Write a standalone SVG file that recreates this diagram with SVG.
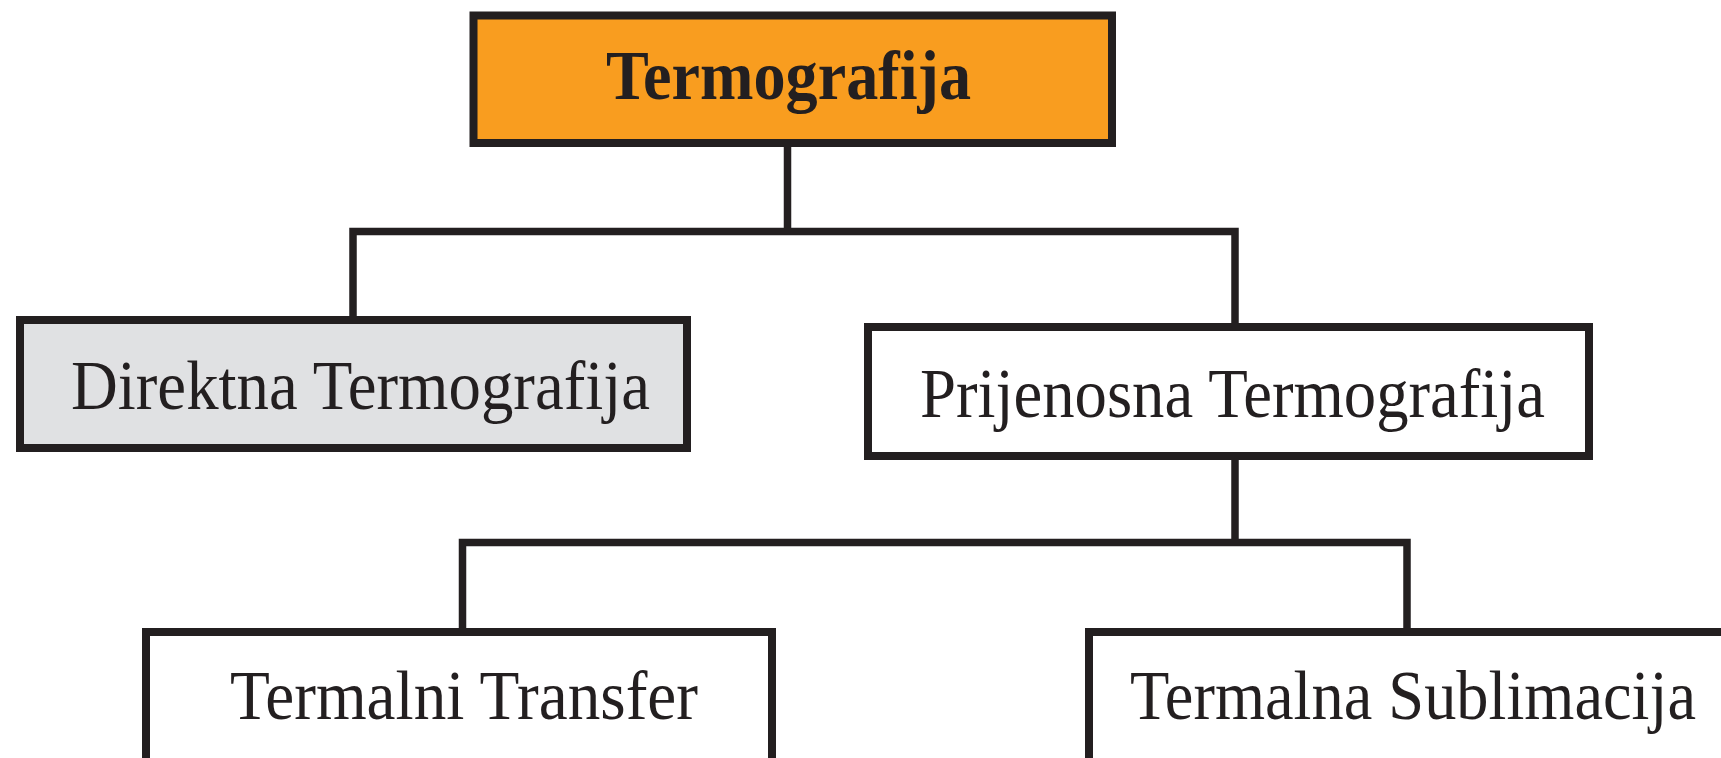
<svg xmlns="http://www.w3.org/2000/svg" width="1721" height="758" viewBox="0 0 1721 758">
<style>
.box{stroke:#231f20;stroke-width:8}
.lbl{font-family:"Liberation Serif","Times New Roman",serif;fill:#231f20;font-size:70px}
.b{font-weight:bold}
.con{fill:none;stroke:#231f20;stroke-width:7.5}
</style>
<rect width="1721" height="758" fill="#ffffff"/>
<g id="connectors">
<path class="con" d="M787.5 147 V231.5 M353 316 V231.5 H1235 V323"/>
<path class="con" d="M1235 460 V542.5 M462.5 628 V542.5 H1407 V628"/>
</g>
<g id="termografija">
<rect class="box" x="473.5" y="15.5" width="638.5" height="127.5" fill="#f99d1f"/>
<text class="lbl b" x="606" y="99" textLength="365" lengthAdjust="spacingAndGlyphs">Termografija</text>
</g>
<g id="direktna">
<rect class="box" x="20" y="320" width="667" height="128" fill="#e0e1e3"/>
<text class="lbl" x="71" y="409" textLength="579" lengthAdjust="spacingAndGlyphs">Direktna Termografija</text>
</g>
<g id="prijenosna">
<rect class="box" x="868" y="327" width="721" height="129" fill="#ffffff"/>
<text class="lbl" x="920" y="417" textLength="625" lengthAdjust="spacingAndGlyphs">Prijenosna Termografija</text>
</g>
<g id="transfer">
<rect class="box" x="146" y="632" width="626" height="140" fill="#ffffff"/>
<text class="lbl" x="230" y="719" textLength="468" lengthAdjust="spacingAndGlyphs">Termalni Transfer</text>
</g>
<g id="sublimacija">
<rect class="box" x="1089" y="632" width="662" height="140" fill="#ffffff"/>
<text class="lbl" x="1130" y="719" textLength="566" lengthAdjust="spacingAndGlyphs">Termalna Sublimacija</text>
</g>
</svg>
